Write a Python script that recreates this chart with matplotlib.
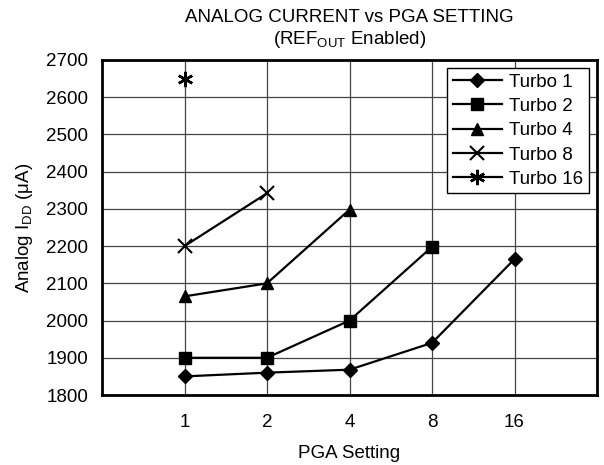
import matplotlib
matplotlib.use("Agg")
import matplotlib.pyplot as plt

plt.rcParams['font.family'] = ['Liberation Sans', 'DejaVu Sans']

pga_labels = ["1", "2", "4", "8", "16"]
turbo1 = [1850, 1860, 1868, 1940, 2165]
turbo2 = [1900, 1900, 2000, 2198]
turbo4 = [2065, 2100, 2298]
turbo8 = [2200, 2342]
turbo16 = [2650]

series = [
    ("Turbo 1", turbo1, dict(marker='D', markersize=7)),
    ("Turbo 2", turbo2, dict(marker='s', markersize=9)),
    ("Turbo 4", turbo4, dict(marker='^', markersize=9)),
    ("Turbo 8", turbo8, dict(marker='x', markersize=10, markeredgewidth=1.5)),
    ("Turbo 16", turbo16, dict(marker=(6, 2, 0), markersize=11, markeredgewidth=1.8)),
]

FS = 13.5
fig = plt.figure(figsize=(6.04, 4.65), dpi=100)
ax = fig.add_axes([102/604, 1-395/465, (597-102)/604, (395-60)/465])

for name, vals, style in series:
    xs = list(range(1, len(vals) + 1))
    ax.plot(xs, vals, color='black', linewidth=1.6, label=name, **style)

ax.set_xlim(0, 6)
ax.set_ylim(1800, 2700)
ax.set_xticks(range(1, len(pga_labels) + 1))
ax.set_xticklabels(pga_labels)
ax.set_yticks(range(1800, 2701, 100))
ax.tick_params(axis='both', length=0, labelsize=FS)
ax.tick_params(axis='x', pad=14)
ax.tick_params(axis='y', pad=10)
ax.grid(True, color='#444444', linewidth=0.9)
ax.set_axisbelow(True)
for sp in ax.spines.values():
    sp.set_linewidth(2)
    sp.set_color('black')

ax.set_xlabel("PGA Setting", fontsize=FS, labelpad=10)
ax.set_ylabel(r"Analog I$_{\mathregular{DD}}$ ($\mathregular{\mu}$A)", fontsize=FS, labelpad=8)
cx = (102 + 597) / 2 / 604
fig.text(cx, 1-17/465, "ANALOG CURRENT vs PGA SETTING", ha='center', va='center', fontsize=FS)
fig.text(cx, 1-40/465, r"(REF$_{\mathregular{OUT}}$ Enabled)", ha='center', va='center', fontsize=FS)

leg = ax.legend(loc='upper right', bbox_to_anchor=(589/604, 1-68/465), bbox_transform=fig.transFigure,
                fontsize=FS, frameon=True, fancybox=False, framealpha=1, edgecolor='black',
                handlelength=2.6, borderpad=0.3, labelspacing=0.38, handletextpad=0.4, borderaxespad=0)
leg.get_frame().set_linewidth(1.0)

fig.savefig("out.png", dpi=100)
